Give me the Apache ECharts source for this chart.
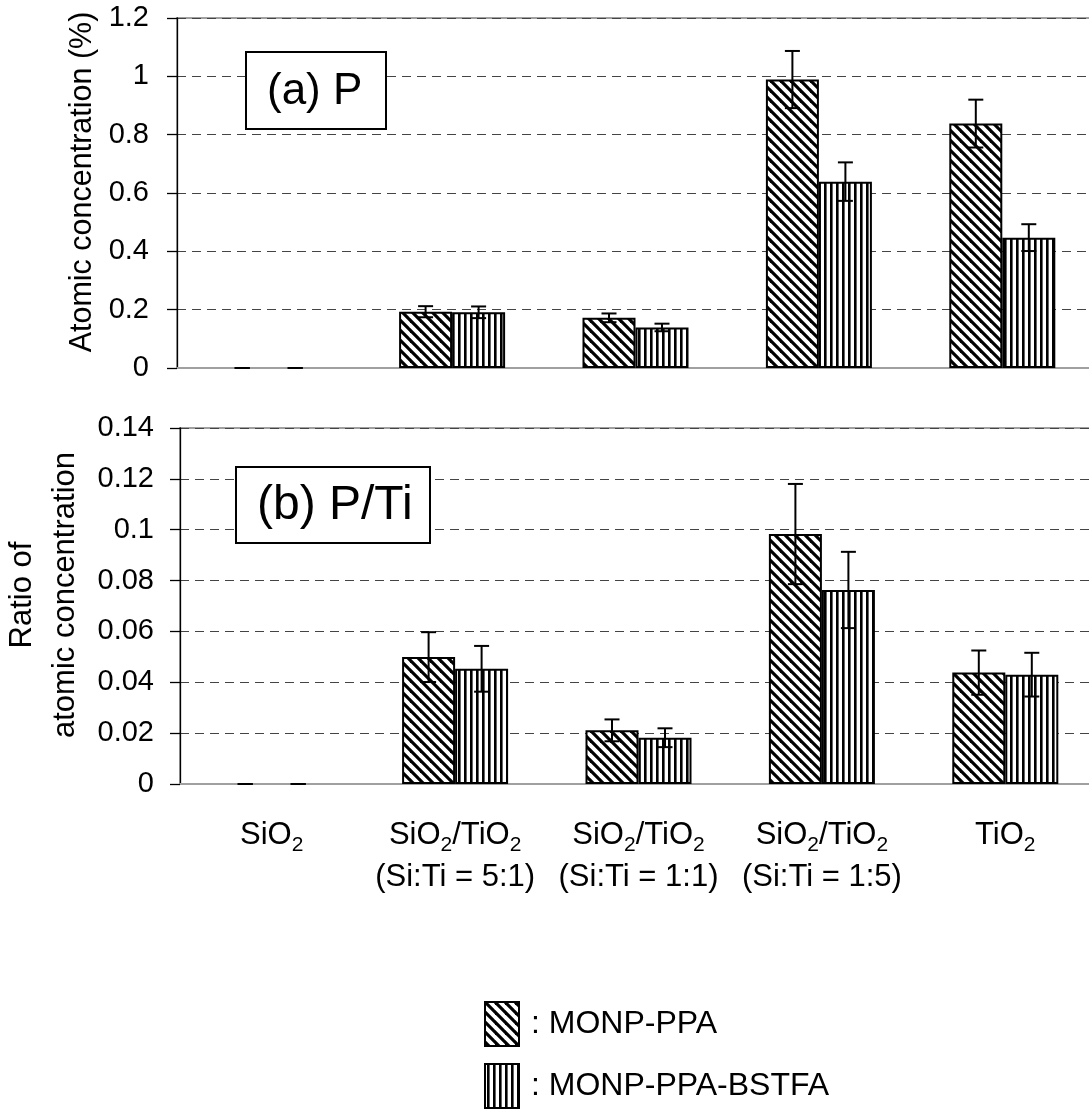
<!DOCTYPE html>
<html>
<head>
<meta charset="utf-8">
<script src="https://cdn.jsdelivr.net/npm/echarts@6/dist/echarts.min.js"></script>
<style>
html,body{margin:0;padding:0;background:#fff;}
#chart{width:1089px;height:1110px;}
</style>
</head>
<body>
<div id="chart"></div>
<script>
// ---------------- data ----------------
const categories = ['SiO2', 'SiO2/TiO2\n(Si:Ti = 5:1)', 'SiO2/TiO2\n(Si:Ti = 1:1)', 'SiO2/TiO2\n(Si:Ti = 1:5)', 'TiO2'];
const seriesNames = ['MONP-PPA', 'MONP-PPA-BSTFA'];

// (a) P atomic concentration (%)
const pPPA = [0, 0.193, 0.172, 0.989, 0.838];
const pPPAErr = [0, 0.019, 0.015, 0.098, 0.082];
const pBSTFA = [0, 0.191, 0.139, 0.639, 0.447];
const pBSTFAErr = [0, 0.020, 0.013, 0.066, 0.046];

// (b) P/Ti ratio of atomic concentration
const rPPA = [0, 0.0499, 0.0211, 0.0983, 0.0438];
const rPPAErr = [0, 0.0098, 0.0043, 0.0197, 0.0087];
const rBSTFA = [0, 0.0453, 0.0182, 0.0763, 0.0430];
const rBSTFAErr = [0, 0.0090, 0.0037, 0.0150, 0.0086];

const topTicks = ['0', '0.2', '0.4', '0.6', '0.8', '1', '1.2'];
const bottomTicks = ['0', '0.02', '0.04', '0.06', '0.08', '0.1', '0.12', '0.14'];

// ---------------- styles ----------------
const FONT = "'Liberation Sans', Arial, Helvetica, sans-serif";
const BAR_W = 53;

function makeDiagonal() {
  const c = document.createElement('canvas');
  c.width = 10; c.height = 10;
  const g = c.getContext('2d');
  g.fillStyle = '#fff'; g.fillRect(0, 0, 10, 10);
  g.strokeStyle = '#000'; g.lineWidth = 3.2;
  for (let k = -1; k <= 1; k++) {
    g.beginPath(); g.moveTo(k * 10 - 2, -2); g.lineTo(k * 10 + 12, 12); g.stroke();
  }
  return c;
}
function makeVertical() {
  const c = document.createElement('canvas');
  c.width = 6; c.height = 6;
  const g = c.getContext('2d');
  g.fillStyle = '#fff'; g.fillRect(0, 0, 6, 6);
  g.fillStyle = '#000'; g.fillRect(2, 0, 2.6, 6);
  return c;
}
const patDiag = { image: makeDiagonal(), repeat: 'repeat' };
const patVert = { image: makeVertical(), repeat: 'repeat' };
const patterns = [patDiag, patVert];

function fmtCat(val) {
  return val.split('\n').map(function (line) {
    return '{n|' + line.replace(/O2/g, 'O}{s|2}{n|') + '}';
  }).join('\n');
}

function barData(vals) {
  return vals.map(function (v) {
    return v === 0 ? { value: v, itemStyle: { borderWidth: 0 } } : v;
  });
}

function errRender(side) {
  return function (params, api) {
    const i = api.value(0), v = api.value(1), e = api.value(2);
    const hi = api.coord([i, v + e]);
    const lo = api.coord([i, v - e]);
    const x = hi[0] + side * BAR_W / 2;
    const cw = 7.5;
    const st = { stroke: '#000', lineWidth: 2 };
    return {
      type: 'group',
      children: [
        { type: 'line', shape: { x1: x, y1: hi[1], x2: x, y2: lo[1] }, style: st },
        { type: 'line', shape: { x1: x - cw, y1: hi[1], x2: x + cw, y2: hi[1] }, style: st },
        { type: 'line', shape: { x1: x - cw, y1: lo[1], x2: x + cw, y2: lo[1] }, style: st }
      ]
    };
  };
}

function errData(vals, errs) {
  return vals.map(function (v, i) { return [i, v, errs[i]]; });
}

const yAxisCommon = {
  type: 'value',
  min: 0,
  axisLine: { show: true, lineStyle: { color: '#000', width: 1.3 } },
  axisTick: { show: true, inside: false, length: 10, lineStyle: { color: '#000', width: 1.3 } },
  splitLine: { show: true, lineStyle: { color: '#444', width: 1, type: [9, 6] } },
  nameLocation: 'middle'
};

const option = {
  backgroundColor: '#fff',
  animation: false,
  textStyle: { fontFamily: FONT },
  grid: [
    { left: 177, top: 18, width: 917, height: 350, show: true, borderColor: '#a0a0a0', borderWidth: 2, containLabel: false, outerBoundsMode: 'none' },
    { left: 180, top: 428, width: 917, height: 356, show: true, borderColor: '#a0a0a0', borderWidth: 2, containLabel: false, outerBoundsMode: 'none' }
  ],
  xAxis: [
    {
      type: 'category', gridIndex: 0, data: categories,
      axisLine: { lineStyle: { color: '#a0a0a0', width: 2 } },
      axisTick: { show: false }, axisLabel: { show: false }, splitLine: { show: false }
    },
    {
      type: 'category', gridIndex: 1, data: categories,
      axisLine: { lineStyle: { color: '#a0a0a0', width: 2 } },
      axisTick: { show: false }, splitLine: { show: false },
      axisLabel: {
        show: true, interval: 0, margin: 30, verticalAlign: 'top',
        formatter: fmtCat,
        rich: {
          n: { fontFamily: FONT, fontSize: 31, color: '#000', lineHeight: 42 },
          s: { fontFamily: FONT, fontSize: 21, color: '#000', lineHeight: 20, verticalAlign: 'bottom' }
        }
      }
    }
  ],
  yAxis: [
    Object.assign({}, yAxisCommon, {
      gridIndex: 0, max: 1.2, interval: 0.2,
      name: 'Atomic concentration (%)', nameGap: 74,
      nameTextStyle: { fontFamily: FONT, fontSize: 30.5, color: '#000', padding: [0, 0, 0, 22] },
      axisLabel: {
        margin: 28, fontSize: 29, color: '#000', fontFamily: FONT,
        formatter: function (v) { return topTicks[Math.round(v / 0.2)]; }
      }
    }),
    Object.assign({}, yAxisCommon, {
      gridIndex: 1, max: 0.14, interval: 0.02,
      name: 'Ratio of\natomic concentration', nameGap: 91,
      nameTextStyle: { fontFamily: FONT, fontSize: 31, color: '#000', lineHeight: 43, padding: [0, 0, 0, 22] },
      axisLabel: {
        margin: 26, fontSize: 29, color: '#000', fontFamily: FONT,
        formatter: function (v) { return bottomTicks[Math.round(v / 0.02)]; }
      }
    })
  ],
  legend: {
    orient: 'vertical', left: 484, top: 1001, height: 140, padding: 0,
    itemWidth: 34, itemHeight: 44, itemGap: 16,
    icon: 'rect',
    data: seriesNames,
    formatter: ': {name}',
    textStyle: { fontFamily: FONT, fontSize: 32, color: '#000', padding: [0, 0, 0, 7] },
    itemStyle: { borderColor: '#000', borderWidth: 2 }
  },
  series: [
    { name: seriesNames[0], type: 'bar', xAxisIndex: 0, yAxisIndex: 0, data: barData(pPPA), barWidth: BAR_W, barGap: '0%',
      itemStyle: { color: patterns[0], borderColor: '#000', borderWidth: 2 } },
    { name: seriesNames[1], type: 'bar', xAxisIndex: 0, yAxisIndex: 0, data: barData(pBSTFA), barWidth: BAR_W, barGap: '0%',
      itemStyle: { color: patterns[1], borderColor: '#000', borderWidth: 2 } },
    { name: seriesNames[0], type: 'bar', xAxisIndex: 1, yAxisIndex: 1, data: barData(rPPA), barWidth: BAR_W, barGap: '0%',
      itemStyle: { color: patterns[0], borderColor: '#000', borderWidth: 2 } },
    { name: seriesNames[1], type: 'bar', xAxisIndex: 1, yAxisIndex: 1, data: barData(rBSTFA), barWidth: BAR_W, barGap: '0%',
      itemStyle: { color: patterns[1], borderColor: '#000', borderWidth: 2 } },
    { name: 'errA1', type: 'custom', xAxisIndex: 0, yAxisIndex: 0, renderItem: errRender(-1), data: errData(pPPA, pPPAErr), z: 10, clip: false, silent: true },
    { name: 'errA2', type: 'custom', xAxisIndex: 0, yAxisIndex: 0, renderItem: errRender(1), data: errData(pBSTFA, pBSTFAErr), z: 10, clip: false, silent: true },
    { name: 'errB1', type: 'custom', xAxisIndex: 1, yAxisIndex: 1, renderItem: errRender(-1), data: errData(rPPA, rPPAErr), z: 10, clip: false, silent: true },
    { name: 'errB2', type: 'custom', xAxisIndex: 1, yAxisIndex: 1, renderItem: errRender(1), data: errData(rBSTFA, rBSTFAErr), z: 10, clip: false, silent: true }
  ],
  graphic: [
    { type: 'rect', z: 100, shape: { x: 246, y: 52, width: 140, height: 77 }, style: { fill: '#fff', stroke: '#000', lineWidth: 2 } },
    { type: 'text', z: 101, x: 267, y: 92, style: { text: '(a) P', font: '44px ' + FONT, fill: '#000', align: 'left', verticalAlign: 'middle' } },
    { type: 'rect', z: 100, shape: { x: 236, y: 467, width: 194, height: 76 }, style: { fill: '#fff', stroke: '#000', lineWidth: 2 } },
    { type: 'text', z: 101, x: 257, y: 506, style: { text: '(b) P/Ti', font: '48px ' + FONT, fill: '#000', align: 'left', verticalAlign: 'middle' } }
  ]
};

const chart = echarts.init(document.getElementById('chart'), null, { renderer: 'canvas' });
chart.setOption(option);
</script>
</body>
</html>
